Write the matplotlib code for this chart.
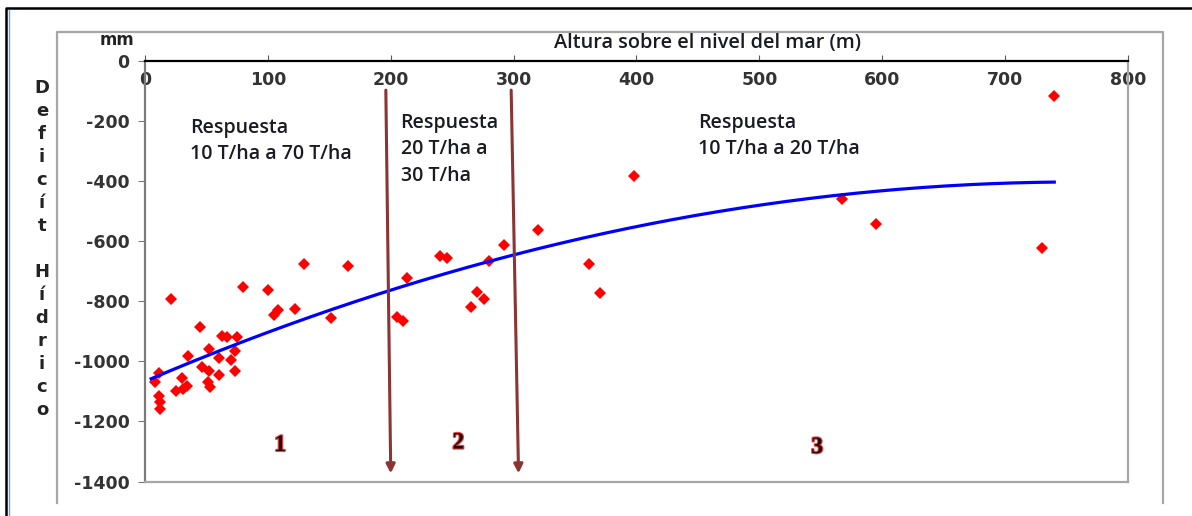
import numpy as np
import matplotlib
matplotlib.use('Agg')
import matplotlib.pyplot as plt
from matplotlib.lines import Line2D
import matplotlib.patheffects as pe

plt.rcParams['axes.unicode_minus'] = False

# Déficit hídrico (mm) según altura sobre el nivel del mar (m)
altura = [8, 11, 11, 12, 12, 21, 25, 30, 31, 34, 35, 45, 46, 52, 51, 52, 53,
          60, 60, 63, 67, 70, 73, 73, 75, 80, 100, 105, 108, 122, 129, 151,
          165, 205, 210, 213, 240, 246, 265, 270, 276, 280, 292, 320, 361,
          370, 398, 567, 595, 730, 740]
deficit = [-1070, -1038, -1115, -1135, -1160, -792, -1099, -1054, -1091,
           -1082, -982, -886, -1020, -960, -1068, -1031, -1084, -988, -1047,
           -916, -918, -997, -966, -1033, -920, -751, -762, -846, -828, -827,
           -677, -857, -684, -853, -866, -722, -650, -655, -819, -769, -793,
           -667, -612, -562, -677, -771, -384, -459, -544, -624, -118]

# Puntos de la línea de tendencia (polinómica de grado 2)
tend_x = [5, 100, 200, 300, 400, 500, 600, 700, 740]
tend_y = [-1058, -903, -763, -646, -551, -480, -432, -407, -403]

x_ticks = [0, 100, 200, 300, 400, 500, 600, 700, 800]
y_ticks = [0, -200, -400, -600, -800, -1000, -1200, -1400]

# Límites entre zonas (flechas): x arriba, x abajo
lim_sup = [196, 298]
lim_inf = [200, 304]

zonas = ['1', '2', '3']
respuestas = ['Respuesta\n10 T/ha a 70 T/ha',
              'Respuesta\n20 T/ha a\n30 T/ha',
              'Respuesta\n10 T/ha a 20 T/ha']

W, H = 1192, 516
fig = plt.figure(figsize=(W / 100, H / 100), dpi=100)


def fx(px):
    return px / W


def fy(py):
    return 1 - py / H


# Marcos exteriores
fig.add_artist(Line2D([fx(6), fx(6), fx(W)], [fy(H), fy(8), fy(8)],
                      color='black', lw=1.8))
fig.add_artist(Line2D([fx(8.5), fx(8.5)], [fy(H), fy(10)],
                      color='#5aa9f0', lw=1.0))
fig.add_artist(Line2D([fx(57), fx(57), fx(1163), fx(1163)],
                      [fy(503), fy(32), fy(32), fy(503)],
                      color='#a6a6a6', lw=1.6))

ax = fig.add_axes([fx(145), fy(481.5), fx(1128) - fx(145), fy(61) - fy(481.5)])
ax.set_xlim(0, 800)
ax.set_ylim(-1400, 0)

# Eje x arriba (en y = 0), etiquetas por debajo de la línea
ax.spines['bottom'].set_position(('data', 0))
ax.spines['bottom'].set_color('black')
ax.spines['bottom'].set_linewidth(1.6)
ax.spines['top'].set_position(('data', -1400))
ax.spines['top'].set_color('#a6a6a6')
ax.spines['top'].set_linewidth(1.6)
ax.spines['right'].set_color('#a6a6a6')
ax.spines['right'].set_linewidth(1.6)
ax.spines['left'].set_color('#7a7a7a')
ax.spines['left'].set_linewidth(1.6)

ax.set_xticks(x_ticks)
ax.set_yticks(y_ticks)
ax.tick_params(axis='x', direction='in', length=4, pad=7, labelsize=12.5,
               labelcolor='#333333', color='#555555')
ax.tick_params(axis='y', direction='out', length=5, pad=6, labelsize=12.5,
               labelcolor='#333333', color='#7a7a7a')
for lbl in ax.get_xticklabels() + ax.get_yticklabels():
    lbl.set_fontweight('bold')

# Datos
ax.plot(altura, deficit, 'D', color='#ff0000', markersize=6.5,
        markeredgewidth=0, zorder=3)

# Tendencia: ajuste polinómico de grado 2 sobre los puntos leídos
coef = np.polyfit(tend_x, tend_y, 2)
xs = np.linspace(min(tend_x), max(tend_x), 200)
ax.plot(xs, np.polyval(coef, xs), color='#0000ff', lw=2.3, zorder=4)

# Flechas de separación de zonas
for xs_, xi in zip(lim_sup, lim_inf):
    ax.annotate('', xy=(xi, -1373), xytext=(xs_, -97),
                arrowprops=dict(arrowstyle='-|>', color='#8b3434', lw=2.2,
                                mutation_scale=13, shrinkA=0, shrinkB=0),
                zorder=5)

# Textos de respuesta
txt = dict(fontfamily='Open Sans', fontweight='semibold', fontsize=14,
           color='#1a1a24', ha='left', va='top', linespacing=1.42)
ax.text(37, -190, respuestas[0], **txt)
ax.text(208, -173, respuestas[1], **txt)
ax.text(450, -173, respuestas[2], **txt)

# Números de zona
num = dict(fontfamily='Liberation Serif', fontweight='bold', fontsize=17,
           color='#2a0505', ha='center', va='center',
           path_effects=[pe.withStroke(linewidth=1.6, foreground='#e84848')])
ax.text(110, -1280, zonas[0], **num)
ax.text(255, -1272, zonas[1], **num)
ax.text(547, -1287, zonas[2], **num)

# Títulos de los ejes
fig.text(fx(117), fy(40), 'mm', fontsize=12, fontweight='bold',
         color='#222222', ha='center', va='center')
fig.text(fx(707), fy(43), 'Altura sobre el nivel del mar (m)',
         fontfamily='Open Sans', fontweight='semibold', fontsize=14.3,
         color='#1a1a24', ha='center', va='center')

etiqueta_y = 'Deficít Hídrico'
for i, ch in enumerate(etiqueta_y):
    fig.text(fx(42), fy(88 + 23 * i), ch, fontsize=13, fontweight='bold',
             color='#222222', ha='center', va='center')

fig.savefig('out.png', dpi=100)
